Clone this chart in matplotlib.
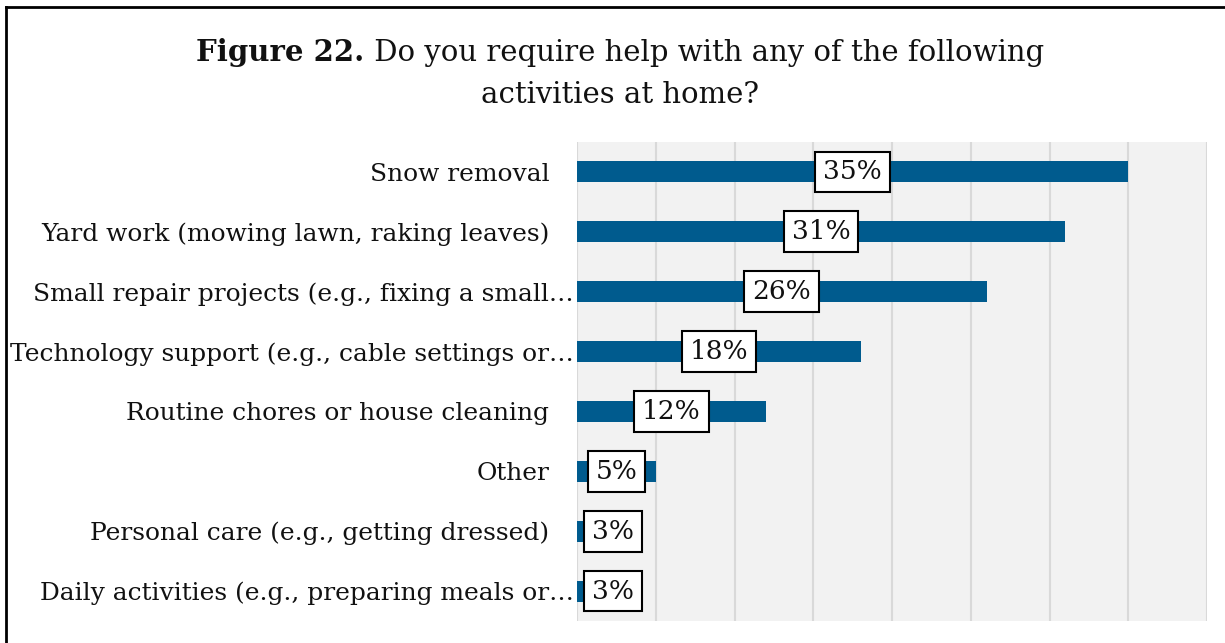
import matplotlib.pyplot as plt
from matplotlib.lines import Line2D
from matplotlib.transforms import ScaledTranslation

categories = [
    "Snow removal",
    "Yard work (mowing lawn, raking leaves)",
    "Small repair projects (e.g., fixing a small…",
    "Technology support (e.g., cable settings or…",
    "Routine chores or house cleaning",
    "Other",
    "Personal care (e.g., getting dressed)",
    "Daily activities (e.g., preparing meals or…",
]
percent = [35, 31, 26, 18, 12, 5, 3, 3]

bar_color = "#005b8e"
font = "DejaVu Serif"
plt.rcParams["font.family"] = font
label_size = 17.9

fig = plt.figure(figsize=(12.25, 6.43), dpi=100)
ax = fig.add_axes([577 / 1225, 1 - 621 / 643, 630 / 1225, 479 / 643])
ax.set_facecolor("#f2f2f2")

y = list(range(len(categories)))
ax.barh(y, percent, height=0.35, color=bar_color, zorder=2)
ax.set_ylim(len(categories) - 0.5, -0.5)
ax.set_xlim(0, 40)
ax.set_xticks(range(0, 41, 5))
ax.set_xticklabels([])
ax.grid(axis="x", color="#d9d9d9", linewidth=1.5, zorder=1)
ax.tick_params(length=0)
ax.set_yticks(y)
ax.set_yticklabels(categories, fontsize=label_size, color="#111111")
ax.tick_params(axis="y", pad=20)
for s in ax.spines.values():
    s.set_visible(False)

# truncated labels: let the ellipsis hang past the label column
r = fig.canvas.get_renderer()
probe = fig.text(0, 0, "…", fontsize=label_size)
ell_w = probe.get_window_extent(r).width / fig.dpi
probe.remove()
for lab in ax.get_yticklabels():
    if lab.get_text().endswith("…"):
        lab.set_transform(lab.get_transform() + ScaledTranslation(ell_w, 0, fig.dpi_scale_trans))

# value labels in boxes, kept clear of the left edge for short bars
for yi, v in zip(y, percent):
    ax.text(max(v / 2, 2.3), yi, f"{v}%", ha="center", va="center",
            fontsize=19, color="#111111", zorder=3,
            bbox=dict(boxstyle="square,pad=0.3", facecolor="white",
                      edgecolor="black", linewidth=1.5))

# title: bold lead-in followed by regular text, centred as one line
cx = 620 / 1225
t1 = fig.text(0, 1 - 61 / 643, "Figure 22.", fontsize=21, fontweight="bold",
              ha="left", va="baseline", color="#111111")
t2 = fig.text(0, 1 - 61 / 643, " Do you require help with any of the following",
              fontsize=21, ha="left", va="baseline", color="#111111")
fig.text(cx, 1 - 103 / 643, "activities at home?", fontsize=21,
         ha="center", va="baseline", color="#111111")
w1 = t1.get_window_extent(r).width / fig.bbox.width
w2 = t2.get_window_extent(r).width / fig.bbox.width
x0 = cx - (w1 + w2) / 2
t1.set_x(x0)
t2.set_x(x0 + w1)

# frame around the figure (left and top edges)
fx, fy = 6 / 1225, 1 - 7 / 643
fig.add_artist(Line2D([fx, fx], [0, fy], color="black", linewidth=2))
fig.add_artist(Line2D([fx, 1], [fy, fy], color="black", linewidth=2))

fig.savefig("out.png", dpi=100)
